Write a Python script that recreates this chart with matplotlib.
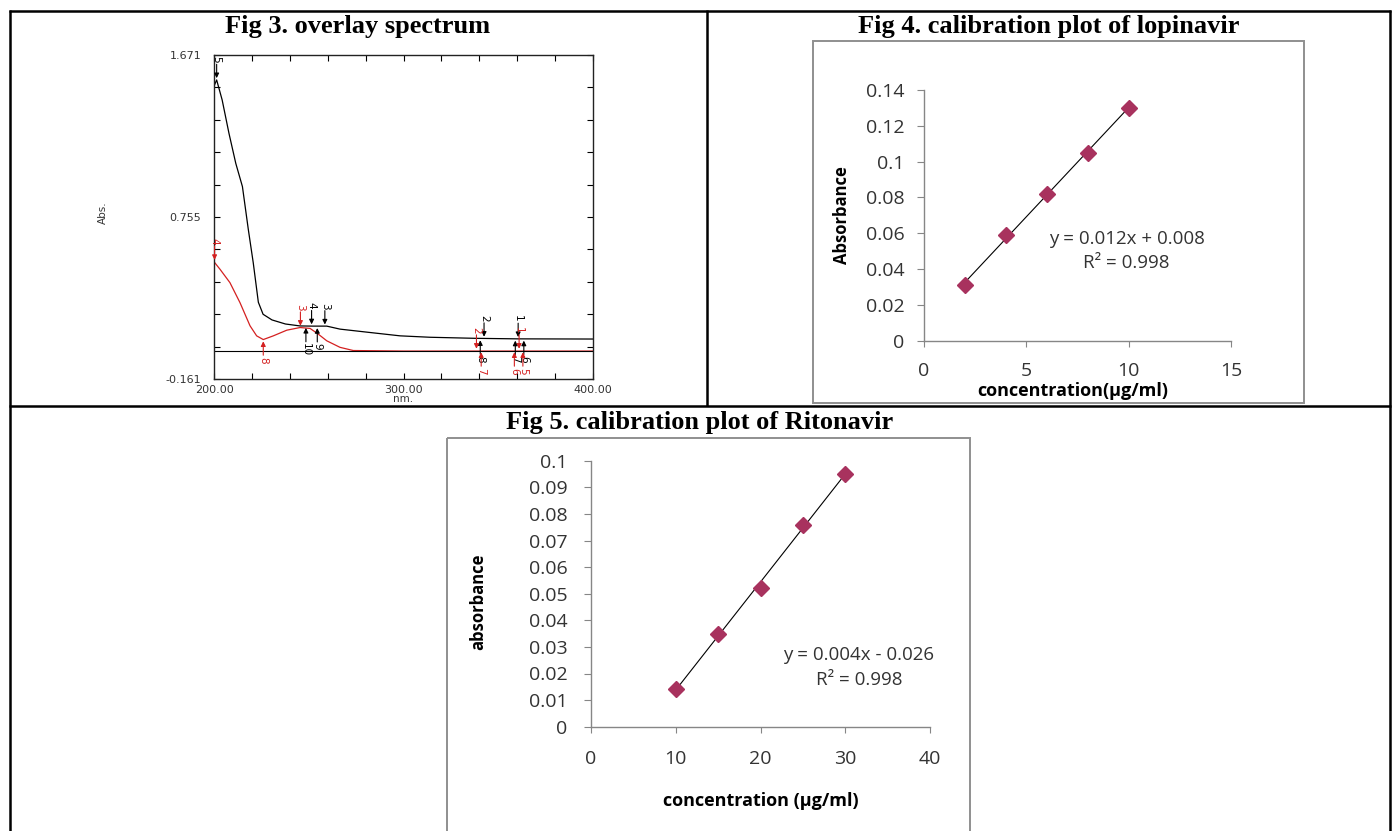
import matplotlib
matplotlib.use('Agg')

import matplotlib.pyplot as plt
import numpy as np
from matplotlib.patches import Rectangle
from matplotlib.ticker import FixedLocator, FixedFormatter

W, H = 1392, 831

# Fig 3 - overlay spectrum
black_wl = [200.0, 200.2, 201.4, 204.3, 207.9, 211.5, 215.0, 218.1, 220.7, 223.4, 225.9,
            230.6, 237.7, 245.4, 252.2, 259.5, 266.5, 280.6, 298.2, 314.0, 338.0, 360.0, 400.0]
black_abs = [1.25, 1.50, 1.53, 1.417, 1.228, 1.058, 0.927, 0.685, 0.497, 0.273, 0.205,
             0.173, 0.150, 0.139, 0.138, 0.138, 0.121, 0.104, 0.083, 0.075, 0.069, 0.066, 0.065]
red_wl = [200.0, 203.2, 208.4, 213.7, 219.0, 222.5, 226.0, 231.3, 238.4, 245.4, 250.7,
          255.0, 259.5, 266.5, 273.5, 300.0, 400.0]
red_abs = [0.502, 0.459, 0.384, 0.271, 0.140, 0.083, 0.062, 0.083, 0.115, 0.130, 0.125,
           0.093, 0.055, 0.018, 0.0, -0.003, -0.003]

# peak / valley picks: (wavelength, abs, label)
black_peaks = [(360.5, 0.066, '1'), (342.5, 0.068, '2'), (258.5, 0.137, '3'),
               (251.5, 0.138, '4'), (201.4, 1.53, '5')]
black_valleys = [(363.5, 0.066, '6'), (359.0, 0.066, '7'), (340.5, 0.068, '8'),
                 (254.5, 0.137, '9'), (248.5, 0.138, '10')]
red_peaks = [(361.0, 0.0, '1'), (338.5, 0.0, '2'), (245.6, 0.130, '3'), (200.3, 0.502, '4')]
red_valleys = [(363.0, 0.0, '5'), (358.5, 0.0, '6'), (341.0, 0.0, '7'), (226.0, 0.062, '8')]

# Fig 4 - lopinavir calibration
lop_conc = [2, 4, 6, 8, 10]
lop_abs = [0.031, 0.059, 0.082, 0.105, 0.130]

# Fig 5 - ritonavir calibration
rit_conc = [10, 15, 20, 25, 30]
rit_abs = [0.014, 0.035, 0.052, 0.076, 0.095]

MARKER_COLOR = '#A8325E'
AXIS_GRAY = '#868686'
EXCEL_FONT = 'Open Sans'
RED = '#D42020'


def px_axes(fig, x0, y0, x1, y1):
    """Add axes from pixel box (top-left origin)"""
    return fig.add_axes([x0 / W, 1 - y1 / H, (x1 - x0) / W, (y1 - y0) / H])


def mark(ax, x, y, label, color, up):
    """Spectrometer style pick arrow with rotated number"""
    sign = -1 if up else 1
    ax.annotate('', xy=(x, y), xytext=(0, sign * 10), textcoords='offset points',
                arrowprops=dict(arrowstyle='-|>', color=color, lw=0.8,
                                mutation_scale=7, shrinkA=0, shrinkB=0))
    if label:
        ax.annotate(label, xy=(x, y), xytext=(0, sign * 11), textcoords='offset points',
                    rotation=270, ha='center', va='top' if up else 'bottom',
                    fontsize=7.5, color=color, family='DejaVu Sans')


def excel_chart(fig, box, xs, ys, xlim, ylim, yticks, xticks, xlabel, ylabel,
                eq_lines, eq_pos, ylabel_pos, xlabel_pos, ypad, xpad):
    ax = px_axes(fig, *box)
    ax.plot(xs, ys, linestyle='none', marker='D', markersize=8,
            color=MARKER_COLOR, zorder=3)
    slope, icpt = np.polyfit(xs, ys, 1)
    fx = np.array([xs[0], xs[-1]])
    ax.plot(fx, slope * fx + icpt, color='black', lw=0.8, zorder=2)
    ax.set_xlim(*xlim)
    ax.set_ylim(*ylim)
    ax.set_yticks(yticks)
    ax.set_yticklabels([f'{v:g}' for v in yticks])
    ax.set_xticks(xticks)
    ax.set_xticklabels([f'{v:g}' for v in xticks])
    for s in ['top', 'right']:
        ax.spines[s].set_visible(False)
    for s in ['left', 'bottom']:
        ax.spines[s].set_color(AXIS_GRAY)
        ax.spines[s].set_linewidth(1.0)
    ax.tick_params(axis='y', direction='out', length=5, color=AXIS_GRAY, pad=ypad,
                   labelsize=14, labelcolor='#333333')
    ax.tick_params(axis='x', direction='out', length=4, color=AXIS_GRAY, pad=xpad,
                   labelsize=14, labelcolor='#333333')
    for t in ax.get_xticklabels() + ax.get_yticklabels():
        t.set_family(EXCEL_FONT)
    ax.set_ylabel(ylabel, family=EXCEL_FONT, fontsize=12, fontweight='bold')
    ax.yaxis.set_label_coords(*ylabel_pos)
    ax.set_xlabel(xlabel, family=EXCEL_FONT, fontsize=13, fontweight='bold')
    ax.xaxis.set_label_coords(*xlabel_pos)
    ax.patch.set_alpha(0)
    for line, yy in zip(eq_lines, eq_pos[1:]):
        ax.text(eq_pos[0], yy, line, transform=ax.transAxes, ha='center',
                va='center', family=EXCEL_FONT, fontsize=13.5, color='#333333')
    return ax


fig = plt.figure(figsize=(W / 100, H / 100), dpi=100)

# table grid and titles on a full-figure canvas
canvas = fig.add_axes([0, 0, 1, 1])
canvas.set_xlim(0, W)
canvas.set_ylim(H, 0)
canvas.axis('off')
lw_tab = 1.8
canvas.plot([9, 1391], [10.5, 10.5], color='black', lw=lw_tab, solid_capstyle='butt')
canvas.plot([9, 1391], [406, 406], color='black', lw=lw_tab, solid_capstyle='butt')
canvas.plot([9.5, 9.5], [10, H], color='black', lw=lw_tab, solid_capstyle='butt')
canvas.plot([1390, 1390], [10, H], color='black', lw=lw_tab, solid_capstyle='butt')
canvas.plot([707, 707], [10, 406], color='black', lw=lw_tab, solid_capstyle='butt')

title_kw = dict(ha='center', va='center', family='Liberation Serif', fontweight='bold',
                fontsize=19)
canvas.text(358, 26, 'Fig 3. overlay spectrum', **title_kw)
canvas.text(1049, 26, 'Fig 4. calibration plot of lopinavir', **title_kw)
canvas.text(700, 422, 'Fig 5. calibration plot of Ritonavir', **title_kw)

# spectrum axis titles
canvas.text(103, 213, 'Abs.', rotation=90, ha='center', va='center', fontsize=7.5,
            color='#333333')
canvas.text(403, 399, 'nm.', ha='center', va='center', fontsize=7.5, color='#333333')

# Excel chart frames
canvas.add_patch(Rectangle((813, 41), 1304 - 813, 403 - 41, fill=False,
                           edgecolor='#8f8f8f', lw=1.4))
canvas.add_patch(Rectangle((447, 438), 970 - 447, 500, fill=False,
                           edgecolor='#8f8f8f', lw=1.4))

# ---- Fig 3 spectrum ----
sp = px_axes(fig, 214, 55, 593, 379)
sp.plot(black_wl, black_abs, color='black', lw=0.9)
sp.plot(red_wl, red_abs, color=RED, lw=0.9)
sp.axhline(0, color='black', lw=0.8)
sp.set_xlim(200, 400)
sp.set_ylim(-0.161, 1.671)
xt = list(range(200, 401, 20))
sp.xaxis.set_major_locator(FixedLocator(xt))
sp.xaxis.set_major_formatter(FixedFormatter([f'{v:.2f}' if v % 100 == 0 else '' for v in xt]))
yt = [-0.161 + i * 0.1832 for i in range(11)]
sp.yaxis.set_major_locator(FixedLocator(yt))
sp.yaxis.set_major_formatter(FixedFormatter(['-0.161', '', '', '', '', '0.755',
                                             '', '', '', '', '1.671']))
sp.tick_params(direction='in', length=4, width=0.8, top=True, right=True,
               labelsize=8, labelcolor='#333333')
sp.tick_params(axis='y', pad=9)
sp.tick_params(axis='x', pad=4)
for s in sp.spines.values():
    s.set_linewidth(1.0)
    s.set_color('#222222')

for x, y, lab in black_peaks:
    mark(sp, x, y + 0.01, lab, 'black', up=False)
for x, y, lab in black_valleys:
    mark(sp, x, y - 0.01, lab, 'black', up=True)
for x, y, lab in red_peaks:
    mark(sp, x, y + 0.01, lab, RED, up=False)
for x, y, lab in red_valleys:
    mark(sp, x, y - 0.01, lab, RED, up=True)

# ---- Fig 4 lopinavir ----
excel_chart(fig, (924, 90, 1231, 340.7), lop_conc, lop_abs,
            (0, 15), (0, 0.14), [0, 0.02, 0.04, 0.06, 0.08, 0.1, 0.12, 0.14],
            [0, 5, 10, 15], 'concentration(µg/ml)', 'Absorbance',
            ['y = 0.012x + 0.008', 'R² = 0.998'], (0.66, 0.405, 0.31),
            (-0.238, 0.5), (0.485, -0.163), 9, 11)

# ---- Fig 5 ritonavir ----
excel_chart(fig, (591, 460.7, 930, 726.7), rit_conc, rit_abs,
            (0, 40), (0, 0.1), [round(0.01 * i, 2) for i in range(11)],
            [0, 10, 20, 30, 40], 'concentration (µg/ml)', 'absorbance',
            ['y = 0.004x - 0.026', 'R² = 0.998'], (0.79, 0.27, 0.176),
            (-0.307, 0.47), (0.5, -0.245), 12, 13)

fig.savefig('out.png', dpi=100)
